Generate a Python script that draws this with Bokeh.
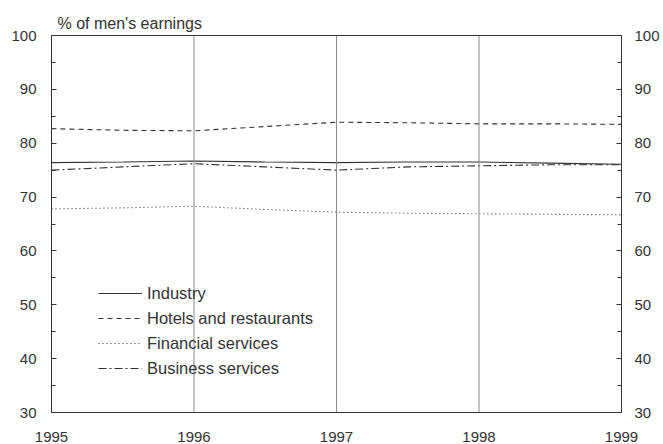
from bokeh.plotting import figure
from bokeh.models import (LinearAxis, FixedTicker, Range1d, Legend, LegendItem, Span)
from bokeh.embed import file_html
from bokeh.resources import INLINE

years = [1995, 1995.5, 1996, 1996.5, 1997, 1997.5, 1998, 1998.5, 1999]
industry = [76.4, 76.5, 76.7, 76.5, 76.4, 76.5, 76.5, 76.3, 76.1]
hotels = [82.7, 82.4, 82.3, 83.1, 83.9, 83.8, 83.6, 83.6, 83.5]
financial = [67.8, 68.0, 68.3, 67.7, 67.2, 67.0, 66.9, 66.8, 66.7]
business = [75.0, 75.6, 76.2, 75.6, 75.0, 75.6, 75.8, 76.0, 76.0]
year_ticks = [1995, 1996, 1997, 1998, 1999]
y_ticks = [30, 40, 50, 60, 70, 80, 90, 100]
y_minor = [35, 45, 55, 65, 75, 85, 95]
title_text = "% of men's earnings"

FONT = "Liberation Sans"
INK = "#333333"

p = figure(width=663, height=444, output_backend="svg", toolbar_location=None,
           x_range=Range1d(1995, 1999), y_range=Range1d(30, 100),
           min_border_left=51, min_border_right=42, min_border_top=35, min_border_bottom=31,
           x_axis_location=None, y_axis_location=None)
p.outline_line_color = INK
p.outline_line_width = 1
p.background_fill_color = "white"
p.border_fill_color = "white"
p.xgrid.visible = False
p.ygrid.visible = False

p.title.text = title_text
p.title.align = "left"
p.title.offset = 6
p.title.standoff = 8
p.title.text_font = FONT
p.title.text_font_size = "16px"
p.title.text_font_style = "normal"
p.title.text_color = INK

for yr in year_ticks[1:-1]:
    p.add_layout(Span(location=yr, dimension="height", line_color="#8a8a8a", line_width=1))

def style_y(ax, standoff):
    ax.ticker = FixedTicker(ticks=y_ticks, minor_ticks=y_minor)
    ax.major_tick_in = 5
    ax.major_tick_out = 0
    ax.minor_tick_in = 4
    ax.minor_tick_out = 0
    ax.axis_line_color = INK
    ax.major_tick_line_color = INK
    ax.minor_tick_line_color = INK
    ax.major_label_text_font = FONT
    ax.major_label_text_font_size = "15px"
    ax.major_label_text_color = INK
    ax.major_label_standoff = standoff

yl = LinearAxis()
style_y(yl, 15)
p.add_layout(yl, "left")
yr_ax = LinearAxis()
style_y(yr_ax, 13)
p.add_layout(yr_ax, "right")

xa = LinearAxis()
xa.ticker = FixedTicker(ticks=year_ticks, minor_ticks=[])
xa.major_tick_in = 0
xa.major_tick_out = 0
xa.minor_tick_in = 0
xa.minor_tick_out = 0
xa.axis_line_color = INK
xa.major_label_text_font = FONT
xa.major_label_text_font_size = "15px"
xa.major_label_text_color = INK
xa.major_label_standoff = 19
p.add_layout(xa, "below")

r1 = p.line(years, industry, line_color=INK, line_width=1.1)
r2 = p.line(years, hotels, line_color=INK, line_width=1.1, line_dash="5 4")
r3 = p.line(years, financial, line_color=INK, line_width=1.1, line_dash="1 3")
r4 = p.line(years, business, line_color=INK, line_width=1.1, line_dash="8 3 2 3")

legend = Legend(items=[
    LegendItem(label="Industry", renderers=[r1]),
    LegendItem(label="Hotels and restaurants", renderers=[r2]),
    LegendItem(label="Financial services", renderers=[r3]),
    LegendItem(label="Business services", renderers=[r4]),
], location=(47, 34), margin=0, padding=0, spacing=5, glyph_width=44, glyph_height=20,
    label_standoff=5, label_text_font=FONT, label_text_font_size="16.5px",
    label_text_color=INK, background_fill_alpha=0, border_line_alpha=0)
p.add_layout(legend, "center")

open("out.html", "w").write(file_html(p, INLINE))
